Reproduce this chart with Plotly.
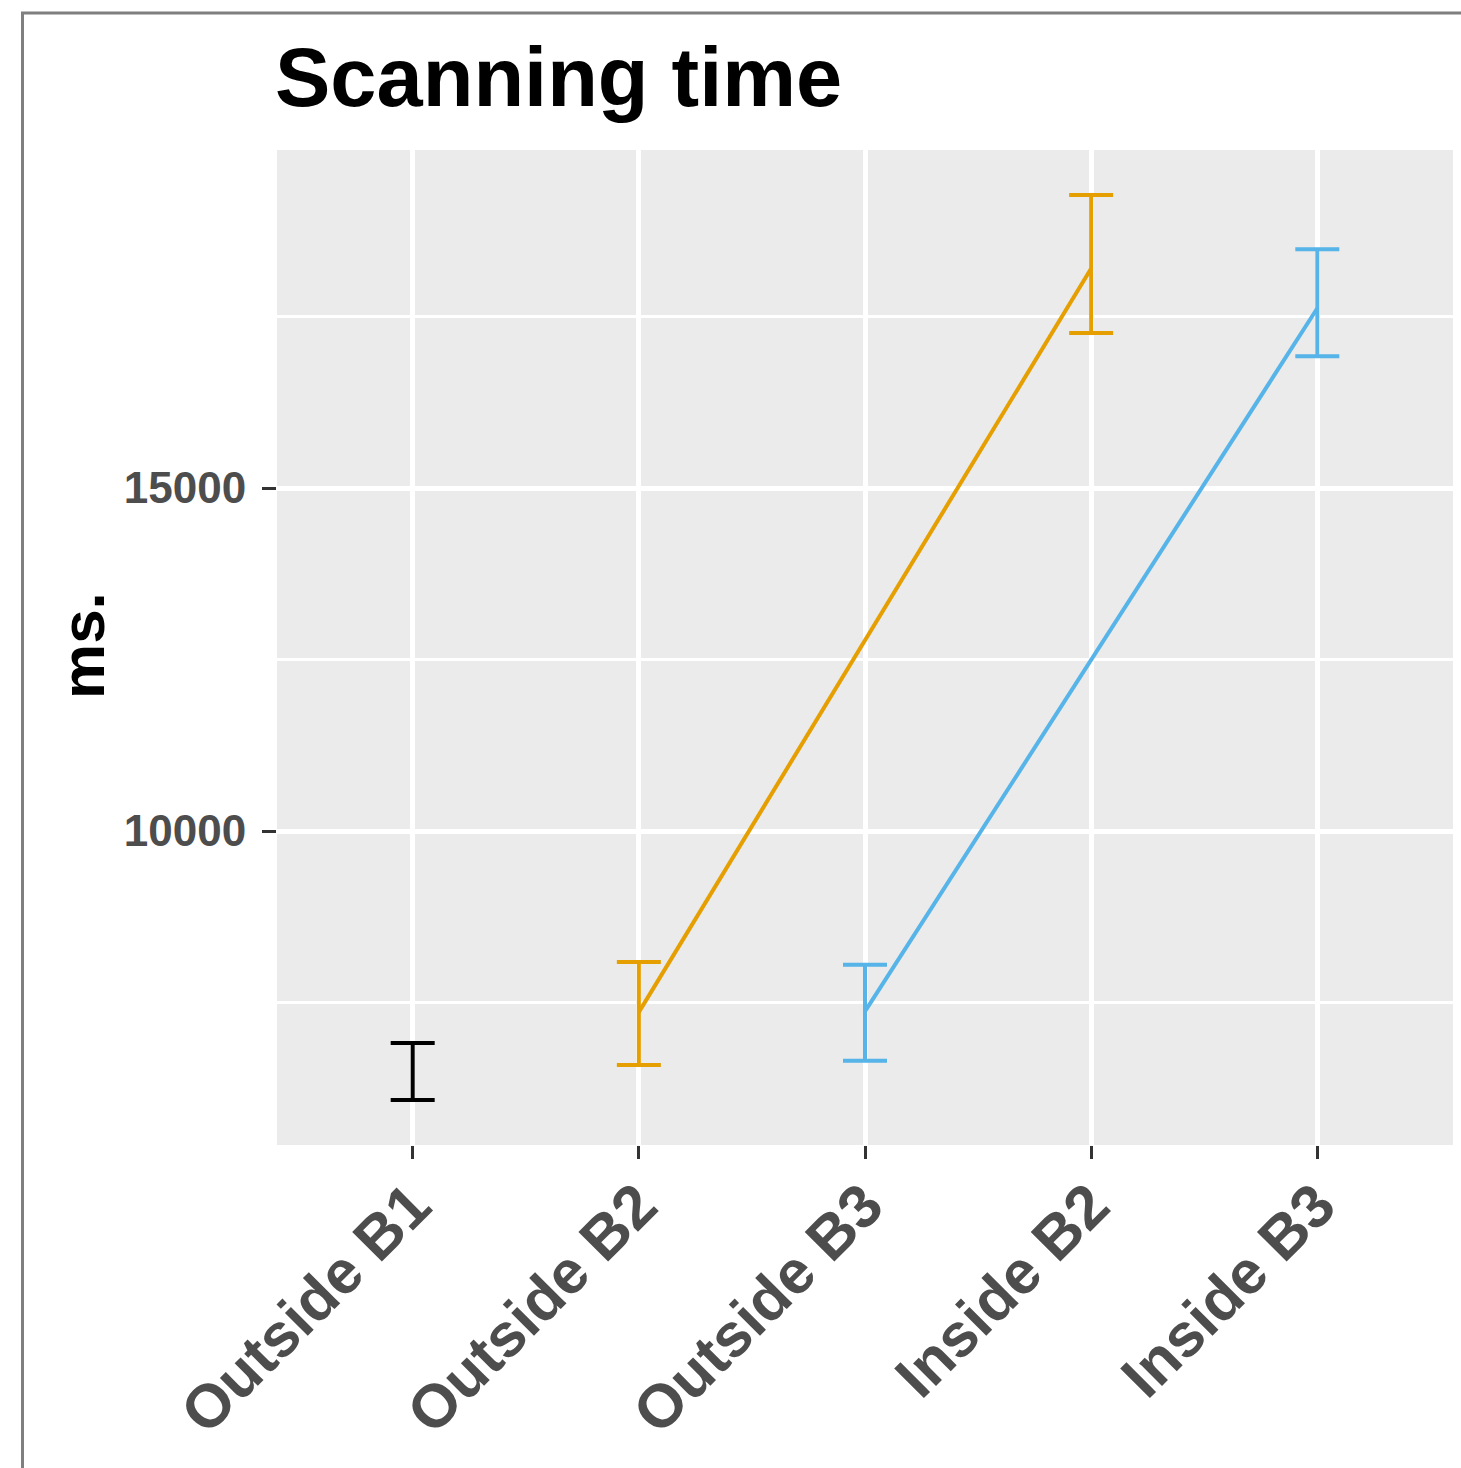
import plotly.graph_objects as go

# Scanning time (ms.) by condition: means with error-bar bounds
categories = ["Outside B1", "Outside B2", "Outside B3", "Inside B2", "Inside B3"]

base_cat = ["Outside B1"]
base_mean = [6495]
base_upper = [6910]
base_lower = [6080]

b2_cat = ["Outside B2", "Inside B2"]
b2_mean = [7360, 18200]
b2_upper = [8090, 19270]
b2_lower = [6590, 17260]

b3_cat = ["Outside B3", "Inside B3"]
b3_mean = [7370, 17620]
b3_upper = [8050, 18480]
b3_lower = [6650, 16920]

y_ticks = [10000, 15000]

FONT = "Liberation Sans, Arial, Helvetica, sans-serif"
W, H = 1461, 1468
ML, MR, MT, MB = 277, 8, 150, 323


def err(mean, upper, lower, color):
    return dict(
        type="data",
        symmetric=False,
        array=[u - m for u, m in zip(upper, mean)],
        arrayminus=[m - l for m, l in zip(mean, lower)],
        color=color,
        thickness=4,
        width=22,
    )


fig = go.Figure()

fig.add_trace(go.Scatter(
    x=base_cat, y=base_mean, mode="markers",
    marker=dict(size=1, color="rgba(0,0,0,0)"),
    error_y=err(base_mean, base_upper, base_lower, "#000000"),
    showlegend=False, hoverinfo="skip",
))
fig.add_trace(go.Scatter(
    x=b2_cat, y=b2_mean, mode="lines",
    line=dict(color="#E69F00", width=4),
    error_y=err(b2_mean, b2_upper, b2_lower, "#E69F00"),
    showlegend=False,
))
fig.add_trace(go.Scatter(
    x=b3_cat, y=b3_mean, mode="lines",
    line=dict(color="#56B4E9", width=4),
    error_y=err(b3_mean, b3_upper, b3_lower, "#56B4E9"),
    showlegend=False,
))

pw = W - ML - MR
ph = H - MT - MB


def px_to_paper_x(px):
    return (px - ML) / pw


def px_to_paper_y(py):
    return (H - MB - py) / ph


fig.update_layout(
    width=W, height=H,
    margin=dict(l=ML, r=MR, t=MT, b=MB, autoexpand=False),
    paper_bgcolor="white",
    plot_bgcolor="#EBEBEB",
    font=dict(family=FONT),
    xaxis=dict(
        type="category",
        categoryorder="array",
        categoryarray=categories,
        range=[-0.6, 4.6],
        showgrid=True, gridcolor="white", gridwidth=5,
        zeroline=False, showline=False,
        ticks="outside", ticklen=13, tickwidth=3, tickcolor="#333333",
        tickangle=-45,
        ticklabelstandoff=-14,
        tickfont=dict(family=FONT, size=61, color="#4D4D4D", weight="bold"),
        automargin=False,
    ),
    yaxis=dict(
        range=[5423, 19927],
        tickvals=y_ticks,
        ticktext=[str(v) for v in y_ticks],
        showgrid=True, gridcolor="white", gridwidth=5,
        minor=dict(tick0=0, dtick=2500, showgrid=True,
                   gridcolor="white", gridwidth=2.5, ticks=""),
        zeroline=False, showline=False,
        ticks="outside", ticklen=14, tickwidth=3, tickcolor="#333333",
        ticklabelstandoff=7,
        tickfont=dict(family=FONT, size=44, color="#4D4D4D", weight="bold"),
        automargin=False,
    ),
    shapes=[dict(
        type="rect", xref="paper", yref="paper",
        x0=px_to_paper_x(22.5), x1=px_to_paper_x(1480),
        y0=px_to_paper_y(1490), y1=px_to_paper_y(13),
        line=dict(color="#7F7F7F", width=3),
        fillcolor="rgba(0,0,0,0)", layer="below",
    )],
    annotations=[
        dict(
            text="Scanning time", xref="paper", yref="paper",
            x=px_to_paper_x(273), y=px_to_paper_y(77),
            xanchor="left", yanchor="middle", showarrow=False,
            font=dict(family=FONT, size=83, color="black", weight="bold"),
        ),
        dict(
            text="ms.", xref="paper", yref="paper",
            x=px_to_paper_x(82), y=px_to_paper_y(646),
            xanchor="center", yanchor="middle", showarrow=False,
            textangle=-90,
            font=dict(family=FONT, size=62, color="black", weight="bold"),
        ),
    ],
)

fig.write_html("out.html")
